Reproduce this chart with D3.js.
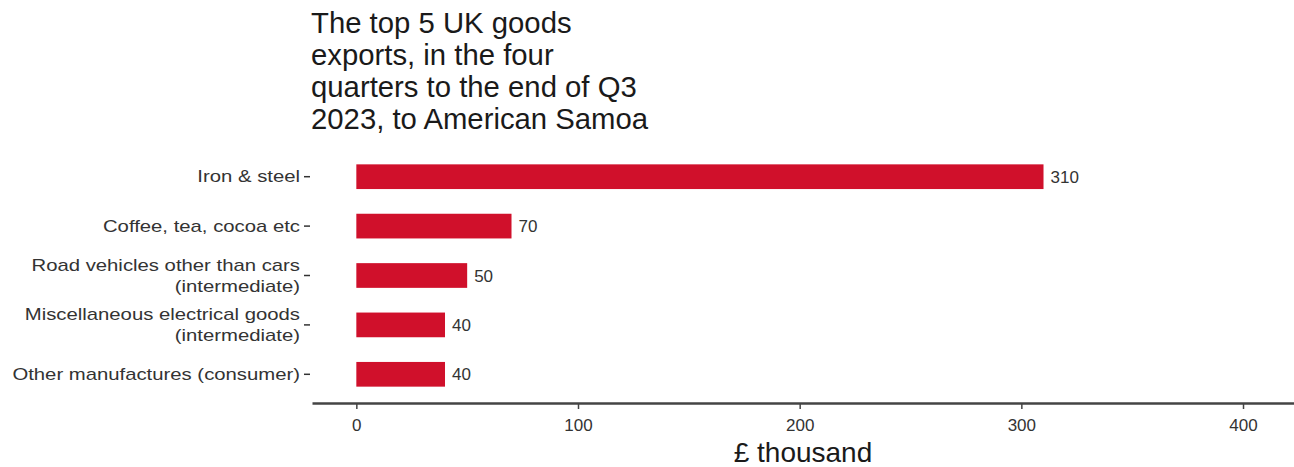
<!DOCTYPE html>
<html>
<head>
<meta charset="utf-8">
<script src="https://cdn.jsdelivr.net/npm/d3@7"></script>
<style>
  body { margin: 0; background: #fff; }
  text { font-family: "Liberation Sans", Arial, sans-serif; }
</style>
</head>
<body>
<div id="chart"></div>
<script>
// data
var categories = [
  ["Iron & steel"],
  ["Coffee, tea, cocoa etc"],
  ["Road vehicles other than cars", "(intermediate)"],
  ["Miscellaneous electrical goods", "(intermediate)"],
  ["Other manufactures (consumer)"]
];
var values = [310, 70, 50, 40, 40];
var xTicks = [0, 100, 200, 300, 400];
var titleLines = ["The top 5 UK goods", "exports, in the four", "quarters to the end of Q3", "2023, to American Samoa"];

var width = 1294, height = 467;
var margin = {top: 152, right: 0, bottom: 64, left: 312};

var svg = d3.select("#chart").append("svg")
  .attr("width", width)
  .attr("height", height);

var x = d3.scaleLinear()
  .domain([-20, 423])
  .range([margin.left, width - margin.right]);

var y = d3.scaleBand()
  .domain(d3.range(categories.length))
  .range([margin.top, 399])
  .paddingInner(0.5)
  .paddingOuter(0.25);

// title
svg.append("text")
  .attr("x", 311)
  .attr("y", 33)
  .attr("font-size", 29.3)
  .attr("fill", "#1a1a1a")
  .selectAll("tspan")
  .data(titleLines)
  .join("tspan")
  .attr("x", 311)
  .attr("dy", function (d, i){ return i ? 32 : 0; })
  .text(function (d){ return d; });

// bars
svg.append("g")
  .selectAll("rect")
  .data(values)
  .join("rect")
  .attr("x", x(0))
  .attr("y", function (d, i){ return y(i); })
  .attr("width", function (d){ return x(d) - x(0); })
  .attr("height", y.bandwidth())
  .attr("fill", "#d0102b");

// value labels
svg.append("g")
  .selectAll("text")
  .data(values)
  .join("text")
  .attr("x", function (d){ return x(d) + 7; })
  .attr("y", function (d, i){ return y(i) + y.bandwidth() / 2; })
  .attr("dy", "0.36em")
  .attr("font-size", 17)
  .attr("fill", "#333")
  .text(function (d){ return d; });

// category axis (no line, short ticks)
var cat = svg.append("g");
categories.forEach(function (lines, i){
  var cy = y(i) + y.bandwidth() / 2;
  cat.append("line")
    .attr("x1", 304).attr("x2", 310)
    .attr("y1", cy).attr("y2", cy)
    .attr("stroke", "#333").attr("stroke-width", 1.5);
  var t = cat.append("text")
    .attr("transform", "translate(300," + cy + ") scale(1.27,1)")
    .attr("text-anchor", "end")
    .attr("font-size", 16)
    .attr("fill", "#333");
  var off = (lines.length - 1) * 21 / 2;
  lines.forEach(function (l, k){
    t.append("tspan")
      .attr("x", 0)
      .attr("y", -off + k * 21)
      .attr("dy", "0.36em")
      .text(l);
  });
});

// x axis
var axisY = 403;
var xAxis = svg.append("g")
  .attr("transform", "translate(0," + axisY + ")")
  .call(d3.axisBottom(x).tickValues(xTicks).tickSize(6).tickPadding(10).tickSizeOuter(0));
xAxis.select(".domain").attr("stroke", "#444").attr("stroke-width", 2.5);
xAxis.selectAll(".tick line").attr("stroke", "#444").attr("stroke-width", 1.5);
xAxis.selectAll(".tick text")
  .attr("font-size", 17)
  .attr("fill", "#333")
  .style("font-family", "Liberation Sans, Arial, sans-serif");

svg.append("text")
  .attr("x", (margin.left + width) / 2)
  .attr("y", 462)
  .attr("text-anchor", "middle")
  .attr("font-size", 28)
  .attr("fill", "#1a1a1a")
  .text("£ thousand");
</script>
</body>
</html>
